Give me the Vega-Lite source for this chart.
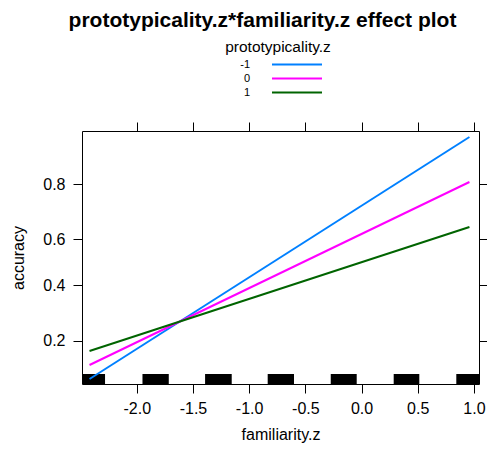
{
  "$schema": "https://vega.github.io/schema/vega-lite/v6.json",
  "width": 397,
  "height": 253,
  "autosize": "none",
  "padding": {"left": 82, "top": 131, "right": 8, "bottom": 66},
  "background": "white",
  "title": {
    "text": "prototypicality.z*familiarity.z effect plot",
    "fontSize": 21,
    "fontWeight": "bold",
    "color": "black",
    "anchor": "middle",
    "frame": "group",
    "dx": -18,
    "offset": 9
  },
  "datasets": {
    "lines": [
      {"familiarity_z": -2.42, "accuracy_logit": -2.064, "prototypicality_z": "-1"},
      {"familiarity_z": 0.96, "accuracy_logit": 2.218, "prototypicality_z": "-1"},
      {"familiarity_z": -2.42, "accuracy_logit": -1.816, "prototypicality_z": "0"},
      {"familiarity_z": 0.96, "accuracy_logit": 1.422, "prototypicality_z": "0"},
      {"familiarity_z": -2.42, "accuracy_logit": -1.568, "prototypicality_z": "1"},
      {"familiarity_z": 0.96, "accuracy_logit": 0.625, "prototypicality_z": "1"}
    ],
    "rug": [
      {"rug_start": -2.487, "rug_end": -2.282},
      {"rug_start": -1.949, "rug_end": -1.715},
      {"rug_start": -1.392, "rug_end": -1.155},
      {"rug_start": -0.835, "rug_end": -0.601},
      {"rug_start": -0.274, "rug_end": -0.043},
      {"rug_start": 0.286, "rug_end": 0.514},
      {"rug_start": 0.843, "rug_end": 1.045}
    ]
  },
  "layer": [
    {
      "data": {"name": "rug"},
      "mark": {"type": "rect", "color": "black"},
      "encoding": {
        "x": {
          "field": "rug_start",
          "type": "quantitative",
          "scale": {"domain": [-2.487, 1.045], "nice": false, "zero": false},
          "axis": {"orient": "top", "values": [-2, -1.5, -1, -0.5, 0, 0.5, 1], "labels": false, "title": null, "domain": false, "grid": false, "tickSize": 9, "tickColor": "black"}
        },
        "x2": {"field": "rug_end"},
        "y": {
          "datum": -2.152,
          "type": "quantitative",
          "scale": {"domain": [-2.152, 2.324], "nice": false, "zero": false},
          "axis": {"orient": "right", "values": [-1.3863, -0.4055, 0.4055, 1.3863], "labels": false, "title": null, "domain": false, "grid": false, "tickSize": 9, "tickColor": "black"}
        },
        "y2": {"datum": -1.975}
      }
    },
    {
      "data": {"name": "lines"},
      "mark": {"type": "line", "strokeWidth": 2},
      "encoding": {
        "x": {
          "field": "familiarity_z",
          "type": "quantitative",
          "axis": {
            "orient": "bottom",
            "values": [-2, -1.5, -1, -0.5, 0, 0.5, 1],
            "labelExpr": "replace(format(datum.value, '.1f'), '\u2212', '-')",
            "title": "familiarity.z",
            "domain": false, "grid": false, "tickSize": 9, "tickColor": "black",
            "labelPadding": 7, "titlePadding": 10
          }
        },
        "y": {
          "field": "accuracy_logit",
          "type": "quantitative",
          "axis": {
            "orient": "left",
            "values": [-1.3863, -0.4055, 0.4055, 1.3863],
            "labelExpr": "format(1 / (1 + exp(-datum.value)), '.1f')",
            "title": "accuracy",
            "domain": false, "grid": false, "tickSize": 9, "tickColor": "black",
            "labelPadding": 8, "titlePadding": 16
          }
        },
        "color": {
          "field": "prototypicality_z",
          "type": "nominal",
          "scale": {"domain": ["-1", "0", "1"], "range": ["#0080ff", "#ff00ff", "#006400"]},
          "legend": {
            "orient": "none",
            "legendX": 143,
            "legendY": -91,
            "title": "prototypicality.z",
            "titleFontSize": 15.5,
            "titleFontWeight": "normal",
            "titleColor": "black",
            "titleAnchor": "middle",
            "titleAlign": "center",
            "titlePadding": 3,
            "symbolType": "M -5 0 L 5 0",
            "symbolSize": 100,
            "symbolStrokeWidth": 2,
            "symbolOffset": 62,
            "labelAlign": "right",
            "labelOffset": -53,
            "labelFontSize": 11,
            "labelColor": "black",
            "rowPadding": 3,
            "padding": 0
          }
        }
      }
    }
  ],
  "resolve": {"axis": {"x": "independent", "y": "independent"}},
  "config": {
    "font": "Liberation Sans",
    "view": {"stroke": "black", "strokeWidth": 1},
    "axis": {
      "labelFontSize": 16,
      "labelColor": "black",
      "titleFontSize": 16,
      "titleFontWeight": "normal",
      "titleColor": "black",
      "tickWidth": 1
    }
  }
}
